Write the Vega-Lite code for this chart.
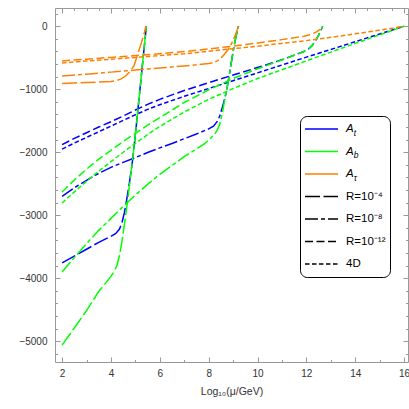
{
"$schema":"https://vega.github.io/schema/vega-lite/v6.json",
"width":353,"height":354,"autosize":"none",
"padding":{"left":55,"top":8,"right":1,"bottom":47},
"config":{"font":"Liberation Sans","view":{"stroke":"#999","strokeWidth":1},
 "axis":{"domain":false,"grid":false,"tickColor":"#999","labelColor":"#333","labelFontSize":10,"titleFontSize":10.5,"titleFontWeight":"normal","titleColor":"#333"}},
"datasets":{
"curves":[
{"p":"t","R":"4","x":2,"y":-3755},{"p":"t","R":"4","x":2.5,"y":-3650},{"p":"t","R":"4","x":3,"y":-3540},{"p":"t","R":"4","x":3.5,"y":-3430},{"p":"t","R":"4","x":4,"y":-3335},{"p":"t","R":"4","x":4.2,"y":-3290},{"p":"t","R":"4","x":4.35,"y":-3220},{"p":"t","R":"4","x":4.45,"y":-3120},{"p":"t","R":"4","x":4.55,"y":-2960},{"p":"t","R":"4","x":4.65,"y":-2740},{"p":"t","R":"4","x":4.75,"y":-2500},{"p":"t","R":"4","x":4.85,"y":-2230},{"p":"t","R":"4","x":4.9,"y":-2080},{"p":"t","R":"4","x":5.0,"y":-1720},{"p":"t","R":"4","x":5.1,"y":-1340},{"p":"t","R":"4","x":5.2,"y":-960},{"p":"t","R":"4","x":5.3,"y":-570},{"p":"t","R":"4","x":5.4,"y":-190},{"p":"t","R":"4","x":5.45,"y":0},
{"p":"t","R":"8","x":2,"y":-2700},{"p":"t","R":"8","x":2.5,"y":-2565},{"p":"t","R":"8","x":3,"y":-2445},{"p":"t","R":"8","x":3.5,"y":-2335},{"p":"t","R":"8","x":4,"y":-2240},{"p":"t","R":"8","x":4.5,"y":-2160},{"p":"t","R":"8","x":5,"y":-2085},{"p":"t","R":"8","x":5.5,"y":-2005},{"p":"t","R":"8","x":6,"y":-1930},{"p":"t","R":"8","x":6.5,"y":-1860},{"p":"t","R":"8","x":7,"y":-1785},{"p":"t","R":"8","x":7.5,"y":-1710},{"p":"t","R":"8","x":8,"y":-1630},{"p":"t","R":"8","x":8.2,"y":-1585},{"p":"t","R":"8","x":8.35,"y":-1510},{"p":"t","R":"8","x":8.45,"y":-1430},{"p":"t","R":"8","x":8.55,"y":-1300},{"p":"t","R":"8","x":8.65,"y":-1160},{"p":"t","R":"8","x":8.75,"y":-990},{"p":"t","R":"8","x":8.85,"y":-760},{"p":"t","R":"8","x":8.95,"y":-520},{"p":"t","R":"8","x":9.05,"y":-290},{"p":"t","R":"8","x":9.15,"y":-110},{"p":"t","R":"8","x":9.22,"y":0},
{"p":"t","R":"12","x":2,"y":-1880},{"p":"t","R":"12","x":2.5,"y":-1780},{"p":"t","R":"12","x":3,"y":-1690},{"p":"t","R":"12","x":3.5,"y":-1600},{"p":"t","R":"12","x":4,"y":-1515},{"p":"t","R":"12","x":4.5,"y":-1425},{"p":"t","R":"12","x":5,"y":-1330},{"p":"t","R":"12","x":5.5,"y":-1240},{"p":"t","R":"12","x":6,"y":-1160},{"p":"t","R":"12","x":7,"y":-1020},{"p":"t","R":"12","x":8,"y":-895},{"p":"t","R":"12","x":9,"y":-775},{"p":"t","R":"12","x":10,"y":-655},{"p":"t","R":"12","x":10.5,"y":-595},{"p":"t","R":"12","x":11,"y":-530},{"p":"t","R":"12","x":11.5,"y":-460},{"p":"t","R":"12","x":11.9,"y":-400},{"p":"t","R":"12","x":12.1,"y":-355},{"p":"t","R":"12","x":12.25,"y":-300},{"p":"t","R":"12","x":12.4,"y":-210},{"p":"t","R":"12","x":12.5,"y":-140},{"p":"t","R":"12","x":12.6,"y":-60},{"p":"t","R":"12","x":12.67,"y":0},
{"p":"t","R":"4D","x":2,"y":-1950},{"p":"t","R":"4D","x":2.5,"y":-1855},{"p":"t","R":"4D","x":3,"y":-1765},{"p":"t","R":"4D","x":3.5,"y":-1675},{"p":"t","R":"4D","x":4,"y":-1585},{"p":"t","R":"4D","x":4.5,"y":-1495},{"p":"t","R":"4D","x":5,"y":-1405},{"p":"t","R":"4D","x":5.5,"y":-1320},{"p":"t","R":"4D","x":6,"y":-1245},{"p":"t","R":"4D","x":7,"y":-1112},{"p":"t","R":"4D","x":8,"y":-988},{"p":"t","R":"4D","x":9,"y":-864},{"p":"t","R":"4D","x":10,"y":-740},{"p":"t","R":"4D","x":11,"y":-615},{"p":"t","R":"4D","x":12,"y":-490},{"p":"t","R":"4D","x":13,"y":-368},{"p":"t","R":"4D","x":14,"y":-245},{"p":"t","R":"4D","x":15,"y":-122},{"p":"t","R":"4D","x":16,"y":0},
{"p":"b","R":"4","x":2,"y":-5063},{"p":"b","R":"4","x":2.5,"y":-4790},{"p":"b","R":"4","x":3,"y":-4515},{"p":"b","R":"4","x":3.5,"y":-4210},{"p":"b","R":"4","x":3.8,"y":-4070},{"p":"b","R":"4","x":4,"y":-3970},{"p":"b","R":"4","x":4.15,"y":-3880},{"p":"b","R":"4","x":4.25,"y":-3790},{"p":"b","R":"4","x":4.35,"y":-3640},{"p":"b","R":"4","x":4.45,"y":-3420},{"p":"b","R":"4","x":4.55,"y":-3150},{"p":"b","R":"4","x":4.65,"y":-2870},{"p":"b","R":"4","x":4.75,"y":-2550},{"p":"b","R":"4","x":4.85,"y":-2230},{"p":"b","R":"4","x":4.9,"y":-2080},{"p":"b","R":"4","x":5.0,"y":-1720},{"p":"b","R":"4","x":5.1,"y":-1340},{"p":"b","R":"4","x":5.2,"y":-960},{"p":"b","R":"4","x":5.3,"y":-570},{"p":"b","R":"4","x":5.4,"y":-190},{"p":"b","R":"4","x":5.45,"y":0},
{"p":"b","R":"8","x":2,"y":-3900},{"p":"b","R":"8","x":2.5,"y":-3670},{"p":"b","R":"8","x":3,"y":-3450},{"p":"b","R":"8","x":3.5,"y":-3240},{"p":"b","R":"8","x":4,"y":-3050},{"p":"b","R":"8","x":4.5,"y":-2860},{"p":"b","R":"8","x":5,"y":-2680},{"p":"b","R":"8","x":5.5,"y":-2510},{"p":"b","R":"8","x":6,"y":-2350},{"p":"b","R":"8","x":6.5,"y":-2210},{"p":"b","R":"8","x":7,"y":-2070},{"p":"b","R":"8","x":7.5,"y":-1950},{"p":"b","R":"8","x":7.85,"y":-1860},{"p":"b","R":"8","x":8.1,"y":-1770},{"p":"b","R":"8","x":8.25,"y":-1710},{"p":"b","R":"8","x":8.35,"y":-1650},{"p":"b","R":"8","x":8.45,"y":-1560},{"p":"b","R":"8","x":8.55,"y":-1400},{"p":"b","R":"8","x":8.65,"y":-1180},{"p":"b","R":"8","x":8.75,"y":-990},{"p":"b","R":"8","x":8.85,"y":-760},{"p":"b","R":"8","x":8.95,"y":-520},{"p":"b","R":"8","x":9.05,"y":-290},{"p":"b","R":"8","x":9.15,"y":-110},{"p":"b","R":"8","x":9.22,"y":0},
{"p":"b","R":"12","x":2,"y":-2630},{"p":"b","R":"12","x":2.5,"y":-2440},{"p":"b","R":"12","x":3,"y":-2270},{"p":"b","R":"12","x":3.5,"y":-2110},{"p":"b","R":"12","x":4,"y":-1970},{"p":"b","R":"12","x":4.5,"y":-1830},{"p":"b","R":"12","x":5,"y":-1700},{"p":"b","R":"12","x":5.5,"y":-1570},{"p":"b","R":"12","x":6,"y":-1450},{"p":"b","R":"12","x":7,"y":-1210},{"p":"b","R":"12","x":8,"y":-1010},{"p":"b","R":"12","x":9,"y":-830},{"p":"b","R":"12","x":10,"y":-675},{"p":"b","R":"12","x":10.5,"y":-605},{"p":"b","R":"12","x":11,"y":-535},{"p":"b","R":"12","x":11.5,"y":-460},{"p":"b","R":"12","x":11.9,"y":-400},{"p":"b","R":"12","x":12.1,"y":-355},{"p":"b","R":"12","x":12.25,"y":-300},{"p":"b","R":"12","x":12.4,"y":-210},{"p":"b","R":"12","x":12.5,"y":-140},{"p":"b","R":"12","x":12.6,"y":-60},{"p":"b","R":"12","x":12.67,"y":0},
{"p":"b","R":"4D","x":2,"y":-2805},{"p":"b","R":"4D","x":2.5,"y":-2630},{"p":"b","R":"4D","x":3,"y":-2460},{"p":"b","R":"4D","x":3.5,"y":-2300},{"p":"b","R":"4D","x":4,"y":-2150},{"p":"b","R":"4D","x":4.5,"y":-2000},{"p":"b","R":"4D","x":5,"y":-1860},{"p":"b","R":"4D","x":5.5,"y":-1720},{"p":"b","R":"4D","x":6,"y":-1590},{"p":"b","R":"4D","x":7,"y":-1360},{"p":"b","R":"4D","x":8,"y":-1160},{"p":"b","R":"4D","x":9,"y":-990},{"p":"b","R":"4D","x":10,"y":-830},{"p":"b","R":"4D","x":11,"y":-690},{"p":"b","R":"4D","x":12,"y":-550},{"p":"b","R":"4D","x":13,"y":-410},{"p":"b","R":"4D","x":14,"y":-272},{"p":"b","R":"4D","x":15,"y":-136},{"p":"b","R":"4D","x":16,"y":0},
{"p":"tau","R":"4","x":2,"y":-910},{"p":"tau","R":"4","x":2.5,"y":-900},{"p":"tau","R":"4","x":3,"y":-892},{"p":"tau","R":"4","x":3.5,"y":-885},{"p":"tau","R":"4","x":4,"y":-875},{"p":"tau","R":"4","x":4.2,"y":-865},{"p":"tau","R":"4","x":4.4,"y":-840},{"p":"tau","R":"4","x":4.6,"y":-790},{"p":"tau","R":"4","x":4.8,"y":-710},{"p":"tau","R":"4","x":4.95,"y":-620},{"p":"tau","R":"4","x":5.05,"y":-500},{"p":"tau","R":"4","x":5.15,"y":-375},{"p":"tau","R":"4","x":5.25,"y":-260},{"p":"tau","R":"4","x":5.35,"y":-130},{"p":"tau","R":"4","x":5.43,"y":0},
{"p":"tau","R":"8","x":2,"y":-790},{"p":"tau","R":"8","x":3,"y":-760},{"p":"tau","R":"8","x":4,"y":-728},{"p":"tau","R":"8","x":5,"y":-695},{"p":"tau","R":"8","x":6,"y":-663},{"p":"tau","R":"8","x":7,"y":-630},{"p":"tau","R":"8","x":7.5,"y":-612},{"p":"tau","R":"8","x":8,"y":-590},{"p":"tau","R":"8","x":8.2,"y":-575},{"p":"tau","R":"8","x":8.35,"y":-550},{"p":"tau","R":"8","x":8.5,"y":-505},{"p":"tau","R":"8","x":8.65,"y":-445},{"p":"tau","R":"8","x":8.8,"y":-365},{"p":"tau","R":"8","x":8.95,"y":-265},{"p":"tau","R":"8","x":9.08,"y":-150},{"p":"tau","R":"8","x":9.22,"y":0},
{"p":"tau","R":"12","x":2,"y":-550},{"p":"tau","R":"12","x":3,"y":-522},{"p":"tau","R":"12","x":4,"y":-494},{"p":"tau","R":"12","x":5,"y":-466},{"p":"tau","R":"12","x":6,"y":-436},{"p":"tau","R":"12","x":7,"y":-402},{"p":"tau","R":"12","x":8,"y":-360},{"p":"tau","R":"12","x":9,"y":-315},{"p":"tau","R":"12","x":10,"y":-265},{"p":"tau","R":"12","x":11,"y":-212},{"p":"tau","R":"12","x":11.5,"y":-183},{"p":"tau","R":"12","x":11.9,"y":-158},{"p":"tau","R":"12","x":12.1,"y":-138},{"p":"tau","R":"12","x":12.25,"y":-120},{"p":"tau","R":"12","x":12.4,"y":-93},{"p":"tau","R":"12","x":12.55,"y":-55},{"p":"tau","R":"12","x":12.67,"y":0},
{"p":"tau","R":"4D","x":2,"y":-582},{"p":"tau","R":"4D","x":3,"y":-552},{"p":"tau","R":"4D","x":4,"y":-523},{"p":"tau","R":"4D","x":5,"y":-494},{"p":"tau","R":"4D","x":6,"y":-466},{"p":"tau","R":"4D","x":7,"y":-438},{"p":"tau","R":"4D","x":8,"y":-398},{"p":"tau","R":"4D","x":9,"y":-356},{"p":"tau","R":"4D","x":10,"y":-316},{"p":"tau","R":"4D","x":11,"y":-272},{"p":"tau","R":"4D","x":12,"y":-228},{"p":"tau","R":"4D","x":13,"y":-176},{"p":"tau","R":"4D","x":14,"y":-120},{"p":"tau","R":"4D","x":15,"y":-62},{"p":"tau","R":"4D","x":16,"y":0}
],
"entries":[{"entry":"A_t"},{"entry":"A_b"},{"entry":"A_τ"},{"entry":"R=10⁻⁴"},{"entry":"R=10⁻⁸"},{"entry":"R=10⁻¹²"},{"entry":"4D"}],
"subs":[{"sub":"t"},{"sub":"b"},{"sub":"τ"}]
},
"layer":[
{"data":{"name":"curves"},
 "mark":{"type":"line","strokeWidth":1.5,"strokeCap":"butt"},
 "encoding":{
  "x":{"field":"x","type":"quantitative","scale":{"domain":[1.71,16.16],"nice":false,"zero":false},
   "axis":{"orient":"bottom","title":"Log₁₀(μ/GeV)","values":[2,2.5,3,3.5,4,4.5,5,5.5,6,6.5,7,7.5,8,8.5,9,9.5,10,10.5,11,11.5,12,12.5,13,13.5,14,14.5,15,15.5,16],
    "format":"d","labelExpr":"datum.value % 2 === 0 ? datum.label : ''","tickSize":{"expr":"datum.value % 2 === 0 ? -5 : -2.5"},"labelPadding":11,"titlePadding":8}},
  "y":{"field":"y","type":"quantitative","scale":{"domain":[-5330,290],"nice":false,"zero":false},
   "axis":{"orient":"left","title":null,"values":[-5200,-5000,-4800,-4600,-4400,-4200,-4000,-3800,-3600,-3400,-3200,-3000,-2800,-2600,-2400,-2200,-2000,-1800,-1600,-1400,-1200,-1000,-800,-600,-400,-200,0,200],
    "format":"d","labelExpr":"datum.value % 1000 === 0 ? datum.label : ''","tickSize":{"expr":"datum.value % 1000 === 0 ? -5 : -2.5"},"labelPadding":13}},
  "color":{"field":"p","type":"nominal","scale":{"domain":["t","b","tau"],"range":["#0000ff","#00ff00","#ff8000"]},"legend":null},
  "strokeDash":{"field":"R","type":"nominal","scale":{"domain":["4","8","12","4D"],"range":[[15,3.5],[13,3,4,3],[8,3.5],[4.5,2.5]]},"legend":null}
 }},
{"data":{"name":"entries"},"transform":[{"filter":"false"}],
 "mark":{"type":"line","strokeWidth":1.5},
 "encoding":{
  "x":{"field":"x","type":"quantitative","scale":{"domain":[1.71,16.16],"nice":false,"zero":false},
   "axis":{"orient":"top","title":null,"labels":false,"values":[2,2.5,3,3.5,4,4.5,5,5.5,6,6.5,7,7.5,8,8.5,9,9.5,10,10.5,11,11.5,12,12.5,13,13.5,14,14.5,15,15.5,16],"tickSize":{"expr":"datum.value % 2 === 0 ? -5 : -2.5"}}},
  "y":{"field":"y","type":"quantitative","scale":{"domain":[-5330,290],"nice":false,"zero":false},
   "axis":{"orient":"right","title":null,"labels":false,"values":[-5200,-5000,-4800,-4600,-4400,-4200,-4000,-3800,-3600,-3400,-3200,-3000,-2800,-2600,-2400,-2200,-2000,-1800,-1600,-1400,-1200,-1000,-800,-600,-400,-200,0,200],"tickSize":{"expr":"datum.value % 1000 === 0 ? -5 : -2.5"}}},
  "color":{"field":"entry","type":"nominal","scale":{"domain":["A_t","A_b","A_τ","R=10⁻⁴","R=10⁻⁸","R=10⁻¹²","4D"],"range":["#0000ff","#00ff00","#ff8000","#000000","#000000","#000000","#000000"]},
   "legend":{"title":null,"orient":"none","legendX":245,"legendY":108,"strokeColor":"#000","cornerRadius":7,"padding":4,"clipHeight":18,"rowPadding":4.5,"symbolType":"stroke","symbolSize":1089,"symbolStrokeWidth":1.5,"labelFontSize":11.5,"labelColor":"#000","labelOffset":7,
    "labelExpr":"indexof(datum.value,'A_')===0 ? 'A' : datum.label","labelFontStyle":{"expr":"indexof(datum.value,'A_')===0 ? 'italic' : 'normal'"}}},
  "strokeDash":{"field":"entry","type":"nominal","scale":{"domain":["A_t","A_b","A_τ","R=10⁻⁴","R=10⁻⁸","R=10⁻¹²","4D"],"range":[[1,0],[1,0],[1,0],[15,3.5],[13,3,4,3],[8,3.5],[4.5,2.5]]},
   "legend":{"title":null,"orient":"none","legendX":245,"legendY":108,"strokeColor":"#000","cornerRadius":7,"padding":4,"clipHeight":18,"rowPadding":4.5,"symbolType":"stroke","symbolSize":1089,"symbolStrokeWidth":1.5,"labelFontSize":11.5,"labelColor":"#000","labelOffset":7,
    "labelExpr":"indexof(datum.value,'A_')===0 ? 'A' : datum.label","labelFontStyle":{"expr":"indexof(datum.value,'A_')===0 ? 'italic' : 'normal'"}}}
 }},
{"data":{"name":"subs"},"transform":[{"filter":"false"}],
 "mark":{"type":"point"},
 "encoding":{
  "shape":{"field":"sub","type":"nominal","scale":{"domain":["t","b","τ"]},
   "legend":{"title":null,"orient":"none","legendX":252.8,"legendY":111.5,"padding":4,"clipHeight":18,"rowPadding":4.5,"symbolSize":1089,"symbolOpacity":0,"symbolStrokeWidth":1.5,"labelFontSize":8.5,"labelFontStyle":"italic","labelColor":"#000","labelOffset":7}}
 }}
],
"resolve":{"scale":{"color":"independent","strokeDash":"independent"},"axis":{"x":"independent","y":"independent"}}
}
